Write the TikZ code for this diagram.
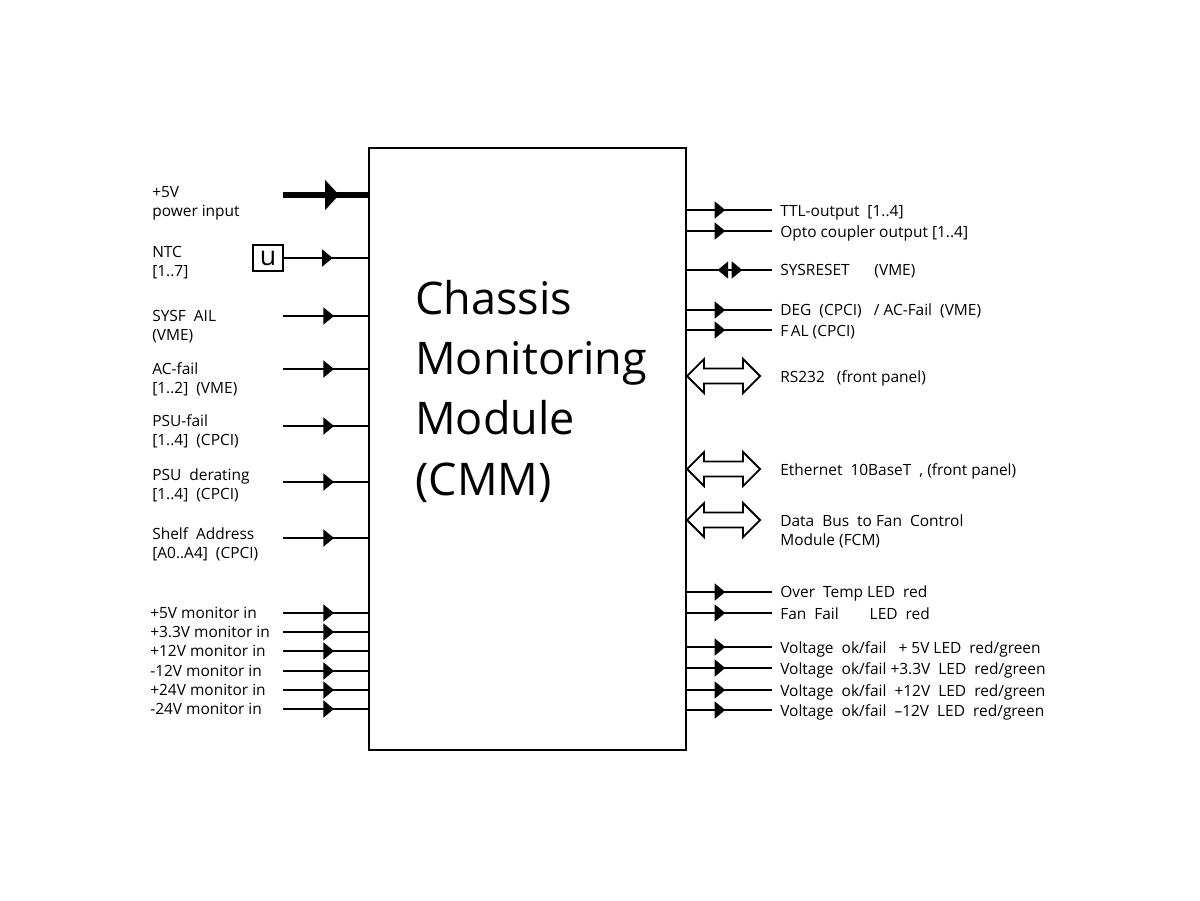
\documentclass[tikz,border=0pt]{standalone}
\usepackage{fontspec}
\setmainfont{Open Sans}
\usepackage{tikz}
\usetikzlibrary{arrows.meta, decorations.markings, positioning}
\newcommand{\busarrow}[1]{\draw[bus] (#1) -- ++(17,-17) -- ++(0,9.5) -- ++(39,0) -- ++(0,-9.5) -- ++(17,17) -- ++(-17,17) -- ++(0,-9.5) -- ++(-39,0) -- ++(0,9.5) -- cycle;}
\tikzset{
    cmmbox/.style={draw, line width=1.4pt, minimum width=7.925cm, minimum height=15.05cm, inner sep=0pt},
    titletext/.style={font=\fontsize{32}{42.7}\selectfont, align=left, anchor=base west, inner sep=0pt},
    lbl/.style={font=\fontsize{11}{13.5}\selectfont, align=left, anchor=base west, inner sep=0pt},
    ubox/.style={draw, line width=1.2pt, minimum width=0.75cm, minimum height=0.65cm, inner sep=0pt, font=\fontsize{19}{19}\selectfont},
    sig/.style={line width=1.3pt, postaction={decorate}, decoration={markings,
        mark=at position #1 with {\arrow{Triangle[length=7.5pt,width=12pt]}}}},
    sig/.default=0.6,
    dualsig/.style={line width=1.3pt, postaction={decorate}, decoration={markings,
        mark=at position 0.36 with {\arrowreversed{Triangle[length=7.5pt,width=12pt]}},
        mark=at position 0.65 with {\arrow{Triangle[length=7.5pt,width=12pt]}}}},
    pwrline/.style={line width=4.3pt, postaction={decorate}, decoration={markings,
        mark=at position 0.66 with {\arrow{Triangle[length=10pt,width=21pt]}}}},
    bus/.style={line width=1.3pt, line join=miter}}

\begin{document}
\begin{tikzpicture}
[x=0.025cm, y=-0.025cm]
\useasboundingbox (0,0) rectangle (1200,900);
\node[cmmbox] (cmm) at (527.5,449) {};
\node[titletext] (title) at (415,495) {Chassis\\Monitoring\\Module\\(CMM)};

% inputs
\coordinate (pwr) at (283,195);
\node[lbl] (pwrlbl) at (152,216) {+5V\\power input};
\node[ubox] (ntc) at (268,258) {u};
\node[lbl] (ntclbl) at (152,276) {NTC\\{}[1..7]};
\coordinate (sysf) at (283,316);
\node[lbl] (sysflbl) at (152,340) {SYSF~ AIL\\(VME)};
\coordinate (acf) at (283,369);
\node[lbl] (acflbl) at (152,393) {AC-fail\\{}[1..2]~ (VME)};
\coordinate (psuf) at (283,426);
\node[lbl] (psuflbl) at (152,445) {PSU-fail\\{}[1..4]~ (CPCI)};
\coordinate (psud) at (283,482);
\node[lbl] (psudlbl) at (152,499) {PSU~ derating\\{}[1..4]~ (CPCI)};
\coordinate (shelf) at (283,538);
\node[lbl] (shelflbl) at (152,558) {Shelf~ Address\\{}[A0..A4]~ (CPCI)};

\draw[pwrline] (pwr) -- (pwr -| cmm.west);
\draw[sig=0.58] (ntc) -- (ntc -| cmm.west);
\draw[sig] (sysf) -- (sysf -| cmm.west);
\draw[sig] (acf) -- (acf -| cmm.west);
\draw[sig] (psuf) -- (psuf -| cmm.west);
\draw[sig] (psud) -- (psud -| cmm.west);
\draw[sig] (shelf) -- (shelf -| cmm.west);

\foreach \yy/\txt [count=\i] in {613/+5V, 632/+3.3V, 651/+12V, 671/-12V, 690/+24V, 709/-24V} {
    \coordinate (mon\i) at (283,\yy);
    \node[lbl] (monlbl\i) at (150,\yy+5) {\txt~monitor in};
    \draw[sig] (mon\i) -- (mon\i -| cmm.west);
}

% outputs
\coordinate (ttl) at (772,210);
\node[lbl] (ttllbl) at (780,216) {TTL-output~ [1..4]};
\coordinate (opto) at (772,231);
\node[lbl] (optolbl) at (780,237) {Opto coupler output [1..4]};
\coordinate (sysres) at (772,270);
\node[lbl] (sysreslbl) at (780,275) {SYSRESET\hspace{1.6em}(VME)};
\coordinate (deg) at (772,310);
\node[lbl] (deglbl) at (780,315) {DEG~ (CPCI)~ ~/ AC-Fail~ (VME)};
\coordinate (fal) at (772,330);
\node[lbl] (fallbl) at (780,336) {F\,AL (CPCI)};

\draw[sig=0.45] (cmm.east |- ttl) -- (ttl);
\draw[sig=0.45] (cmm.east |- opto) -- (opto);
\draw[dualsig] (cmm.east |- sysres) -- (sysres);
\draw[sig=0.45] (cmm.east |- deg) -- (deg);
\draw[sig=0.45] (cmm.east |- fal) -- (fal);

\coordinate (rs) at (772,376);
\node[lbl] (rslbl) at (780,382) {RS232~ ~(front panel)};
\coordinate (eth) at (772,469);
\node[lbl] (ethlbl) at (780,475) {Ethernet~ 10BaseT~ , (front panel)};
\coordinate (fcm) at (772,520);
\node[lbl] (fcmlbl) at (780,545) {Data~ Bus~ to Fan~ Control\\Module (FCM)};
\busarrow{cmm.east |- rs}
\busarrow{cmm.east |- eth}
\busarrow{cmm.east |- fcm}

\coordinate (temp) at (772,592);
\node[lbl] (templbl) at (780,597) {Over~ Temp LED~ red};
\coordinate (fan) at (772,613);
\node[lbl] (fanlbl) at (780,619) {Fan~ Fail\hspace{2em}LED~ red};
\draw[sig=0.45] (cmm.east |- temp) -- (temp);
\draw[sig=0.45] (cmm.east |- fan) -- (fan);

\foreach \yy/\txt [count=\i] in {647/{~ ~+ 5V LED}, 668/{ +3.3V~ LED}, 690/{~ +12V~ LED}, 710/{~ –12V~ LED}} {
    \coordinate (volt\i) at (772,\yy);
    \node[lbl] (voltlbl\i) at (780,\yy+6) {Voltage~ ok/fail\txt~ red/green};
    \draw[sig=0.45] (cmm.east |- volt\i) -- (volt\i);
}
\end{tikzpicture}
\end{document}
